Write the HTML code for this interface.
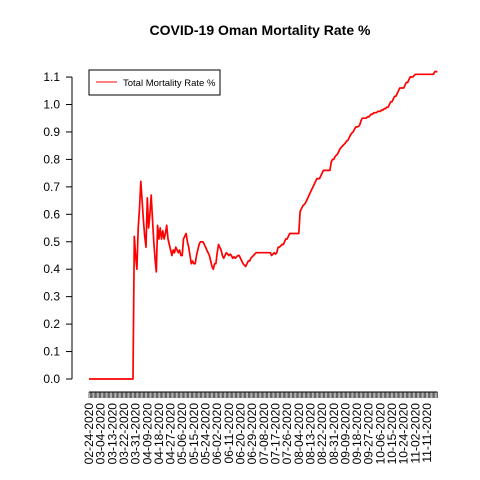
<!DOCTYPE html>
<html><head><meta charset="utf-8"><style>
body{margin:0;background:#fff;}
svg{display:block;font-family:"Liberation Sans",sans-serif;}
</style></head><body>
<svg id="chart" width="480" height="480" viewBox="0 0 480 480">
<rect width="480" height="480" fill="#fff"/>
<text x="260" y="35" text-anchor="middle" font-size="14" font-weight="bold">COVID-19 Oman Mortality Rate %</text>
<g id="yaxis"></g>
<g id="xaxis"></g>
<g id="series"></g>
<g>
<rect x="89" y="70" width="131" height="25" fill="#fff" stroke="#000" stroke-width="1"/>
<line x1="96" y1="82" x2="117" y2="82" stroke="#f00" stroke-width="1"/>
<text x="123" y="86" font-size="9.5">Total Mortality Rate %</text>
</g>
</svg>
<script>
const startDate = [2020, 1, 24];
const yTicks = [0,0.1,0.2,0.3,0.4,0.5,0.6,0.7,0.8,0.9,1.0,1.1];
const zeros = new Array(35).fill(0);
const rates = zeros.concat([
.52,.45,.40,.55,.62,.72,.65,.58,.52,.48,
.66,.55,.60,.67,.58,.50,.44,.39,.56,.51,
.55,.51,.54,.51,.53,.56,.51,.49,.47,.45,
.47,.46,.48,.47,.46,.47,.45,.45,.51,.52,
.53,.50,.48,.45,.42,.43,.42,.42,.45,.47,
.49,.50,.50,.50,.49,.48,.47,.46,.45,.43,
.41,.40,.42,.42,.46,.49,.48,.47,.45,.44,
.45,.46,.455,.45,.455,.45,.44,.445,.44,.445,
.45,.45,.44,.43,.42,.415,.41,.42,.43,.43,
.44,.445,.45,.455,.46,.46,.46,.46,.46,.46,
.46,.46,.46,.46,.46,.46,.45,.455,.46,.455,
.46,.48,.48,.485,.49,.49,.50,.51,.51,.52,
.53,.53,.53,.53,.53,.53,.53,.53,.61,.62,
.63,.635,.64,.65,.66,.67,.68,.69,.70,.71,
.72,.73,.73,.73,.74,.75,.76,.76,.76,.76,
.76,.76,.79,.80,.80,.81,.815,.82,.83,.84,
.845,.85,.855,.86,.867,.87,.88,.89,.896,.90,
.91,.918,.918,.92,.925,.94,.95,.95,.95,.95,
.955,.955,.96,.965,.965,.97,.97,.97,.975,.975,
.975,.98,.98,.985,.985,.99,.99,1.0,1.01,1.01,
1.02,1.03,1.03,1.04,1.05,1.06,1.06,1.06,1.06,1.07,
1.08,1.08,1.09,1.10,1.10,1.10,1.105,1.11,1.11,1.11,
1.11,1.11,1.11,1.11,1.11,1.11,1.11,1.11,1.11,1.11,
1.11,1.11,1.12,1.12,1.12
]);
const NS="http://www.w3.org/2000/svg";
const x0=89, pxPerDay=1.295, y0=379, pxPerUnit=274.5;
function xs(i){return x0+i*pxPerDay;}
function ys(v){return y0-v*pxPerUnit;}
function mk(tag,attrs,parent){const e=document.createElementNS(NS,tag);for(const k in attrs)e.setAttribute(k,attrs[k]);parent.appendChild(e);return e;}
const yg=document.getElementById('yaxis');
const ya=mk('line',{x1:72,x2:72,y1:ys(yTicks[0]),y2:ys(yTicks[yTicks.length-1]),stroke:'#000'},yg);


yTicks.forEach(t=>{
 const l=mk('line',{x1:66,x2:72,y1:ys(t),y2:ys(t),stroke:'#000'},yg);
 
 
 const tx=mk('text',{x:60,y:ys(t)+4,'text-anchor':'end','font-size':12},yg);
 
 
 tx.textContent=t.toFixed(1);
});
const xg=document.getElementById('xaxis');
const n=rates.length;
const xa=mk('line',{x1:xs(0),x2:xs(n-1),y1:392,y2:392,stroke:'#000'},xg);


const base=new Date(startDate[0],startDate[1],startDate[2]);
for(let i=0;i<n;i++){
 const l=mk('line',{x1:xs(i),x2:xs(i),y1:392,y2:398,stroke:'#000','stroke-width':0.6},xg);
 
 
 if(i%9===0){
  const d=new Date(base.getTime()+i*86400000);
  const s=String(d.getMonth()+1).padStart(2,'0')+'-'+String(d.getDate()).padStart(2,'0')+'-'+d.getFullYear();
  const x=xs(i)+4;
  const tx=mk('text',{x:x,y:403,'text-anchor':'end','font-size':12,transform:`rotate(-90 ${x} 403)`},xg);
  
  
  tx.textContent=s;
 }
}
const sg=document.getElementById('series');
const pts=rates.map((v,i)=>xs(i).toFixed(1)+','+ys(v).toFixed(1)).join(' ');
const pl=mk('polyline',{points:pts,fill:'none',stroke:'#f00','stroke-width':1.7,'stroke-linejoin':'round'},sg);


</script>
</body></html>
